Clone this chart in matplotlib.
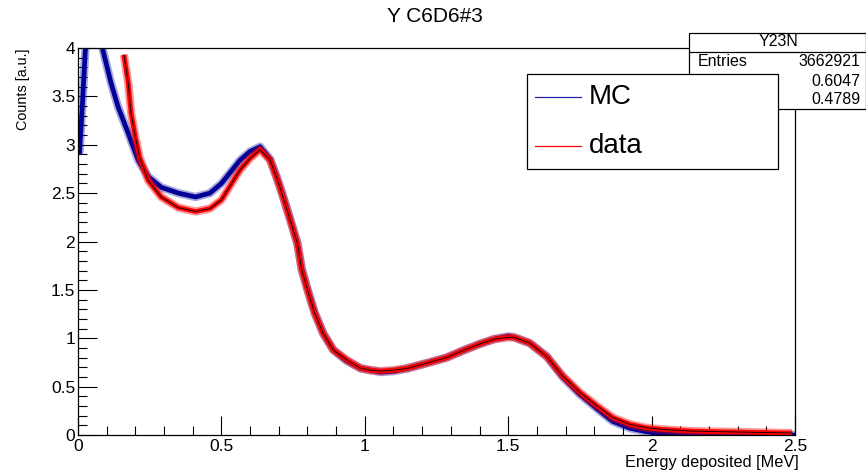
import numpy as np
import matplotlib
matplotlib.use("Agg")
import matplotlib.pyplot as plt
from matplotlib.patches import Rectangle
from matplotlib.lines import Line2D
from matplotlib.ticker import MultipleLocator

plt.rcParams['font.family'] = ['Liberation Sans', 'DejaVu Sans']

# values
mc_energy = [0.005, 0.015, 0.025, 0.04, 0.06, 0.085, 0.115, 0.14, 0.175, 0.21,
             0.245, 0.29, 0.35, 0.41, 0.46, 0.5, 0.565, 0.6, 0.635, 0.67,
             0.695, 0.715, 0.74, 0.765, 0.78, 0.8, 0.825, 0.855, 0.89, 0.935,
             0.985, 1.02, 1.055, 1.1, 1.15, 1.225, 1.285, 1.34, 1.4, 1.45,
             1.5, 1.52, 1.575, 1.635, 1.69, 1.75, 1.81, 1.865, 1.925, 1.98,
             2.03, 2.08, 2.12, 2.5]
mc_counts = [2.9, 3.4, 3.95, 4.4, 4.5, 4.0, 3.64, 3.39, 3.12, 2.84,
             2.67, 2.56, 2.50, 2.46, 2.50, 2.6, 2.84, 2.93, 2.98, 2.85,
             2.65, 2.47, 2.23, 1.98, 1.72, 1.51, 1.27, 1.05, 0.88, 0.77,
             0.69, 0.67, 0.65, 0.66, 0.69, 0.75, 0.8, 0.87, 0.94, 0.99,
             1.02, 1.01, 0.95, 0.81, 0.60, 0.42, 0.27, 0.14, 0.07, 0.035,
             0.015, 0.005, 0.0, 0.0]

data_energy = [0.16, 0.175, 0.185, 0.2, 0.215, 0.245, 0.29, 0.35, 0.41, 0.46,
               0.5, 0.565, 0.6, 0.635, 0.67, 0.695, 0.715, 0.74, 0.765, 0.78,
               0.8, 0.825, 0.855, 0.89, 0.935, 0.985, 1.02, 1.055, 1.1, 1.15,
               1.225, 1.285, 1.34, 1.4, 1.45, 1.5, 1.52, 1.575, 1.635, 1.69,
               1.75, 1.81, 1.865, 1.925, 1.98, 2.03, 2.08, 2.145, 2.22, 2.32,
               2.4, 2.49]
data_counts = [3.93, 3.64, 3.33, 3.08, 2.87, 2.63, 2.46, 2.35, 2.31, 2.34,
               2.43, 2.74, 2.86, 2.95, 2.84, 2.64, 2.46, 2.22, 1.98, 1.71,
               1.50, 1.26, 1.05, 0.88, 0.78, 0.69, 0.67, 0.66, 0.67, 0.69,
               0.75, 0.8, 0.87, 0.94, 0.99, 1.01, 1.01, 0.95, 0.81, 0.61,
               0.44, 0.30, 0.18, 0.11, 0.075, 0.06, 0.05, 0.04, 0.035, 0.03,
               0.025, 0.02]

title = "Y C6D6#3"
stats_name = "Y23N"
stats_rows = [("Entries", "3662921"), ("Mean", "0.6047"), ("Std Dev", "0.4789")]

W, H = 866, 474
fig = plt.figure(figsize=(W / 100, H / 100), dpi=100)


def fx(px):
    return px / W


def fy(py):
    return 1 - py / H


ax = fig.add_axes([fx(78), fy(435), fx(795) - fx(78), fy(48) - fy(435)])

mc_col = '#000099'
ax.plot(mc_energy, mc_counts, color=mc_col, lw=6, alpha=0.35, solid_capstyle='butt')
ax.plot(mc_energy, mc_counts, color=mc_col, lw=3.4, solid_capstyle='butt')
ax.plot(data_energy, data_counts, color='#ff0000', lw=6, alpha=0.4, solid_capstyle='butt')
ax.plot(data_energy, data_counts, color='#ff0000', lw=3.4, solid_capstyle='butt')
ax.plot(data_energy, data_counts, color='black', lw=0.6)

ax.set_xlim(0, 2.5)
ax.set_ylim(0, 4)
ax.xaxis.set_major_locator(MultipleLocator(0.5))
ax.xaxis.set_minor_locator(MultipleLocator(0.1))
ax.yaxis.set_major_locator(MultipleLocator(0.5))
ax.yaxis.set_minor_locator(MultipleLocator(0.1))
ax.xaxis.set_major_formatter(plt.FuncFormatter(lambda v, p: f"{v:g}"))
ax.yaxis.set_major_formatter(plt.FuncFormatter(lambda v, p: f"{v:g}"))
ax.tick_params(which='both', direction='in', top=False, right=False, width=0.8)
ax.tick_params(which='major', length=13.5, labelsize=12.5)
ax.tick_params(axis='x', which='major', pad=3)
ax.tick_params(axis='y', which='major', pad=2)
ax.tick_params(which='minor', length=6.5)
for s in ax.spines.values():
    s.set_linewidth(0.9)

fig.text(fx(435), fy(17), title, ha='center', va='center', fontsize=15)
fig.text(fx(799), fy(462), "Energy deposited [MeV]", ha='right', va='center', fontsize=11.7)
fig.text(fx(23), fy(49), "Counts [a.u.]", ha='center', va='top', rotation=90, fontsize=10.4)

# stats box
fig.patches.append(Rectangle((fx(689), fy(109)), fx(866) - fx(689), fy(33) - fy(109),
                             transform=fig.transFigure, facecolor='white',
                             edgecolor='black', lw=0.9, zorder=5))
fig.lines.append(Line2D([fx(689), fx(866)], [fy(52), fy(52)], transform=fig.transFigure,
                        color='black', lw=0.9, zorder=6))
fig.text(fx(778), fy(42), stats_name, ha='center', va='center', fontsize=11.5, zorder=7)
for (k, v), yy in zip(stats_rows, [62, 81.5, 99.5]):
    fig.text(fx(698), fy(yy), k, ha='left', va='center', fontsize=11.5, zorder=7)
    fig.text(fx(860), fy(yy), v, ha='right', va='center', fontsize=11.5, zorder=7)

# legend box
fig.patches.append(Rectangle((fx(527), fy(169)), fx(778) - fx(527), fy(74) - fy(169),
                             transform=fig.transFigure, facecolor='white',
                             edgecolor='black', lw=0.9, zorder=8))
for label, col, yy in [("MC", '#2222aa', 97), ("data", '#ff0000', 146)]:
    fig.lines.append(Line2D([fx(535), fx(581)], [fy(yy), fy(yy)], transform=fig.transFigure,
                            color=col, lw=0.9, zorder=9))
    fig.text(fx(589), fy(yy), label, ha='left', va='center', fontsize=20, zorder=9)

fig.savefig("out.png", dpi=100)
